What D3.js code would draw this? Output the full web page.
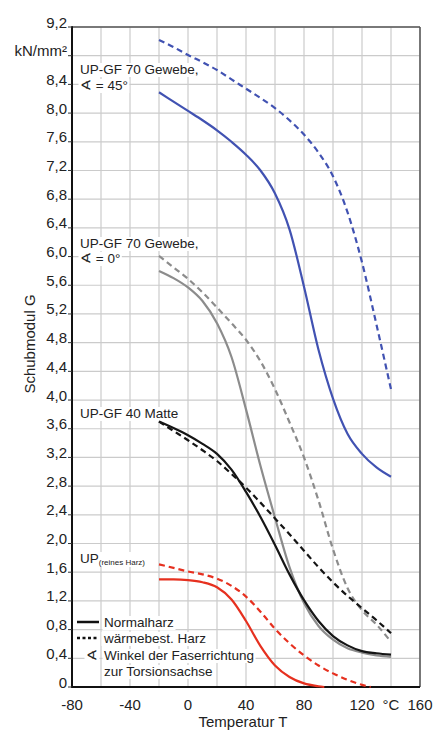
<!DOCTYPE html>
<html><head><meta charset="utf-8">
<script src="https://cdn.jsdelivr.net/npm/d3@7"></script>
<style>
html,body{margin:0;padding:0;background:#fff;}
svg{display:block;font-family:"Liberation Sans",Arial,Helvetica,sans-serif;}
</style></head><body>
<svg id="chart" width="434" height="731"></svg>
<script>
// Shear modulus G (kN/mm²) of UP resins and glass-fibre laminates vs. temperature (°C)
const temps = [-20, -10, 0, 10, 20, 30, 40, 50, 60, 70, 80, 90, 100, 110, 120, 130, 140];

const gewebe45Normal = [8.29, 8.16, 8.03, 7.90, 7.76, 7.60, 7.42, 7.20, 6.88, 6.38, 5.58, 4.70, 4.02, 3.53, 3.25, 3.06, 2.93];
const gewebe45Heat   = [9.02, 8.92, 8.81, 8.71, 8.60, 8.47, 8.34, 8.21, 8.07, 7.90, 7.70, 7.45, 7.12, 6.62, 5.92, 5.05, 4.15];
const gewebe0Normal  = [5.80, 5.70, 5.57, 5.38, 5.07, 4.60, 3.87, 3.08, 2.36, 1.67, 1.17, 0.85, 0.66, 0.54, 0.48, 0.44, 0.42];
const gewebe0Heat    = [6.01, 5.85, 5.69, 5.50, 5.29, 5.07, 4.84, 4.54, 4.15, 3.69, 3.20, 2.60, 1.92, 1.38, 1.07, 0.87, 0.63];
const matte40Normal  = [3.70, 3.61, 3.51, 3.39, 3.25, 3.03, 2.72, 2.37, 1.98, 1.57, 1.21, 0.92, 0.71, 0.58, 0.50, 0.47, 0.45];
const matte40Heat    = [3.70, 3.57, 3.44, 3.30, 3.15, 2.97, 2.78, 2.57, 2.35, 2.13, 1.90, 1.67, 1.46, 1.27, 1.10, 0.93, 0.75];

const resinTemps     = [-20, -10, 0, 10, 20, 30, 40, 50, 60, 70, 80, 90, 94];
const resinNormal    = [1.50, 1.50, 1.49, 1.46, 1.39, 1.22, 0.92, 0.57, 0.30, 0.14, 0.05, 0.01, 0];
const resinHeatTemps = [-20, -10, 0, 10, 20, 30, 40, 50, 60, 70, 80, 90, 100, 110, 120, 126];
const resinHeat      = [1.71, 1.66, 1.61, 1.57, 1.51, 1.41, 1.26, 1.05, 0.81, 0.61, 0.44, 0.30, 0.19, 0.10, 0.03, 0];

const xTicks      = [-80, -40, 0, 40, 80, 120, 140, 160];
const xTickLabels = ["-80", "-40", "0", "40", "80", "120", "°C", "160"];
const yTicks      = [0, 0.4, 0.8, 1.2, 1.6, 2.0, 2.4, 2.8, 3.2, 3.6, 4.0, 4.4, 4.8, 5.2, 5.6, 6.0, 6.4, 6.8, 7.2, 7.6, 8.0, 8.4, 8.8, 9.2];
const yTickLabels = ["0", "0,4", "0,8", "1,2", "1,6", "2,0", "2,4", "2,8", "3,2", "3,6", "4,0", "4,4", "4,8", "5,2", "5,6", "6,0", "6,4", "6,8", "7,2", "7,6", "8,0", "8,4", "kN/mm²", "9,2"];
const xGrid = [-80, -60, -40, -20, 0, 20, 40, 60, 80, 100, 120, 140, 160];

const W = 434, H = 731;
const m = {left: 72, top: 27, right: 14, bottom: 44};
const svg = d3.select("#chart");
const x = d3.scaleLinear().domain([-80, 160]).range([m.left, W - m.right]);
const y = d3.scaleLinear().domain([0, 9.2]).range([H - m.bottom, m.top]);

const BLUE = "#4152b2", GRAY = "#8c8c8c", BLACK = "#151515", RED = "#e6301f";

// grid
const grid = svg.append("g").attr("stroke", "#cbcbcb").attr("stroke-width", 1.2);
grid.selectAll("line.v").data(xGrid).join("line").attr("class", "v")
  .attr("x1", d => x(d)).attr("x2", d => x(d)).attr("y1", y(0)).attr("y2", y(9.2));
grid.selectAll("line.h").data(yTicks).join("line").attr("class", "h")
  .attr("x1", x(-80)).attr("x2", x(160)).attr("y1", d => y(d)).attr("y2", d => y(d));

// frame
svg.append("line").attr("x1", x(-80)).attr("x2", x(160)).attr("y1", y(9.2)).attr("y2", y(9.2)).attr("stroke", "#555").attr("stroke-width", 1.5);
svg.append("line").attr("x1", x(160)).attr("x2", x(160)).attr("y1", y(9.2)).attr("y2", y(0)).attr("stroke", "#555").attr("stroke-width", 1.5);
svg.append("line").attr("x1", x(-80)).attr("x2", x(-80)).attr("y1", y(9.2) - 0.7).attr("y2", y(0) + 1).attr("stroke", "#111").attr("stroke-width", 2);
svg.append("line").attr("x1", x(-80) - 1).attr("x2", x(160)).attr("y1", y(0)).attr("y2", y(0)).attr("stroke", "#111").attr("stroke-width", 2);

// y ticks
svg.selectAll("line.yt").data(yTicks).join("line").attr("class", "yt")
  .attr("x1", x(-80) - 4).attr("x2", x(-80)).attr("y1", d => y(d)).attr("y2", d => y(d))
  .attr("stroke", "#333").attr("stroke-width", 1);
svg.selectAll("text.yl").data(yTicks).join("text").attr("class", "yl")
  .attr("x", x(-80) - 5).attr("y", d => y(d) + 0.5).attr("text-anchor", "end")
  .attr("font-size", 15).attr("fill", "#222")
  .text((d, i) => yTickLabels[i]);

// x tick labels
svg.selectAll("text.xl").data(xTicks).join("text").attr("class", "xl")
  .attr("x", d => x(d)).attr("y", 710).attr("text-anchor", "middle")
  .attr("font-size", 15).attr("fill", "#222")
  .text((d, i) => xTickLabels[i]);

// axis titles
svg.append("text").attr("transform", `translate(35,344) rotate(-90)`).attr("text-anchor", "middle")
  .attr("font-size", 15).attr("fill", "#222").text("Schubmodul G");
svg.append("text").attr("x", 243).attr("y", 727).attr("text-anchor", "middle")
  .attr("font-size", 15).attr("fill", "#222").text("Temperatur T");

// labels with white backing
function label(xp, yp, txt, size) {
  const g = svg.append("g");
  const t = g.append("text").attr("x", xp).attr("y", yp).attr("font-size", size || 13.5).attr("fill", "#222").text(txt);
  const b = t.node().getBBox();
  g.insert("rect", "text").attr("x", b.x - 1.5).attr("y", b.y + 1).attr("width", b.width + 3).attr("height", b.height - 1).attr("fill", "#fff");
  return t;
}
label(80, 74, "UP-GF 70 Gewebe,");
label(80, 90, "∢ = 45°");
label(80, 248, "UP-GF 70 Gewebe,");
label(80, 263, "∢ = 0°");
label(80, 418, "UP-GF 40 Matte");
{
  const g = svg.append("g");
  const t = g.append("text").attr("x", 80).attr("y", 563).attr("font-size", 13.5).attr("fill", "#222");
  t.append("tspan").text("UP");
  t.append("tspan").attr("font-size", 8).attr("dy", 2).text("(reines Harz)");
  const b = t.node().getBBox();
  g.insert("rect", "text").attr("x", b.x - 1.5).attr("y", b.y + 1).attr("width", b.width + 3).attr("height", b.height - 1).attr("fill", "#fff");
}

// legend
label(104, 627, "Normalharz");
label(104, 643, "wärmebest. Harz");
label(104, 660, "Winkel der Faserrichtung");
label(104, 676, "zur Torsionsachse");
label(86, 660, "∢");
svg.append("line").attr("x1", 77).attr("x2", 99).attr("y1", 622).attr("y2", 622).attr("stroke", "#111").attr("stroke-width", 2.5);
svg.append("line").attr("x1", 77).attr("x2", 99).attr("y1", 638).attr("y2", 638).attr("stroke", "#111").attr("stroke-width", 2.5).attr("stroke-dasharray", "3,2.5");

// curves
const line = d3.line().x(d => x(d[0])).y(d => y(d[1])).curve(d3.curveMonotoneX);
const series = [
  {t: temps, v: gewebe0Normal, c: GRAY, dash: null},
  {t: temps, v: gewebe0Heat, c: GRAY, dash: "6,4"},
  {t: temps, v: matte40Heat, c: BLACK, dash: "6,4"},
  {t: temps, v: matte40Normal, c: BLACK, dash: null},
  {t: resinTemps, v: resinNormal, c: RED, dash: null},
  {t: resinHeatTemps, v: resinHeat, c: RED, dash: "6,4"},
  {t: temps, v: gewebe45Normal, c: BLUE, dash: null},
  {t: temps, v: gewebe45Heat, c: BLUE, dash: "6,4"}
];
svg.selectAll("path.curve").data(series).join("path").attr("class", "curve")
  .attr("d", s => line(s.t.map((t, i) => [t, s.v[i]])))
  .attr("fill", "none").attr("stroke", s => s.c).attr("stroke-width", 2.2)
  .attr("stroke-dasharray", s => s.dash);
</script></body></html>
